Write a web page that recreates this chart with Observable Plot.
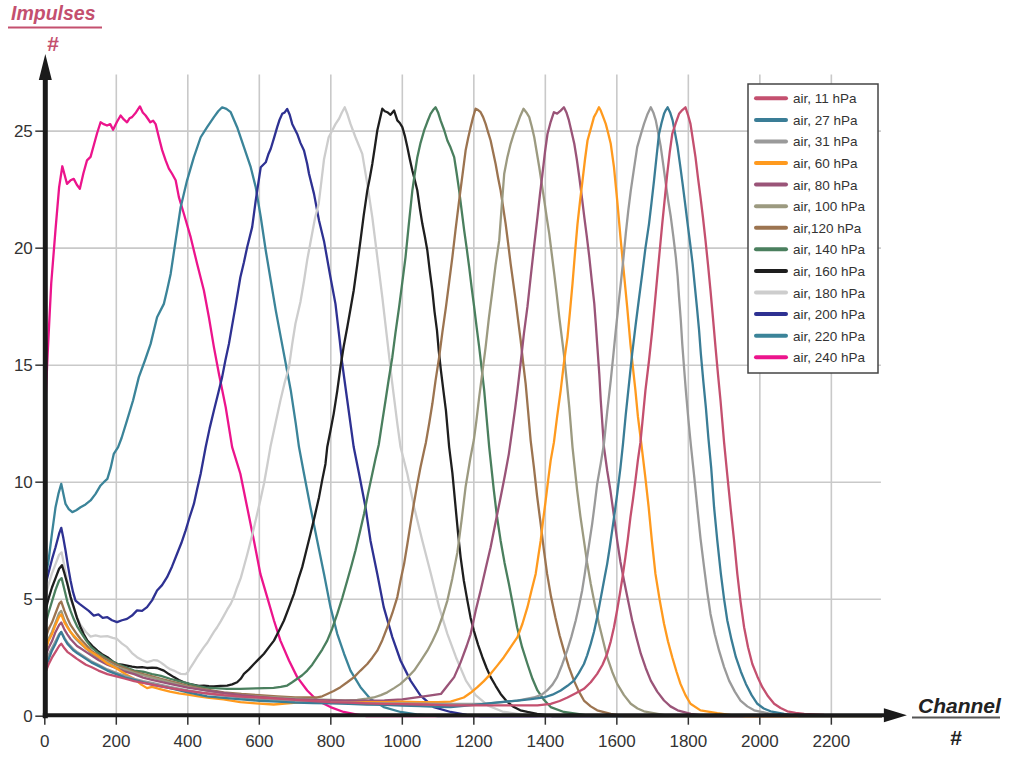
<!DOCTYPE html>
<html>
<head>
<meta charset="utf-8">
<script src="https://cdn.jsdelivr.net/npm/d3@7"></script>
<script src="https://cdn.jsdelivr.net/npm/@observablehq/plot@0.6"></script>
<style>
  html, body { margin: 0; padding: 0; background: #fff; }
  #chart { width: 1016px; height: 757px; }
</style>
</head>
<body>
<div id="chart"></div>
<script>
// ---------- axis ticks ----------
const xTicks = [0, 200, 400, 600, 800, 1000, 1200, 1400, 1600, 1800, 2000, 2200];
const yTicks = [0, 5, 10, 15, 20, 25];
const xDomain = [0, 2340];
const yDomain = [0, 27.4];

// ---------- series names & colours (legend order) ----------
const seriesNames = ["air, 11 hPa", "air, 27 hPa", "air, 31 hPa", "air, 60 hPa", "air, 80 hPa",
  "air, 100 hPa", "air,120 hPa", "air, 140 hPa", "air, 160 hPa", "air, 180 hPa",
  "air, 200 hPa", "air, 220 hPa", "air, 240 hPa"];
const seriesColors = ["#c4506f", "#3a7d96", "#9a9a9a", "#ff9a1e", "#9a5478",
  "#9c9a80", "#9c7450", "#4a7f5e", "#1e1e1e", "#cdcdcd",
  "#2e3192", "#3b8499", "#ec148c"];

// ---------- series values: [channel, impulses] ----------
const air11 = [[0,1.8],[10,2.2],[20,2.5],[30,2.75],[40,3.0],[46,3.1],[55,2.9],[63,2.75],[72,2.65],[81,2.55],[90,2.45],[100,2.35],[115,2.2],[130,2.1],[150,1.95],[175,1.8],[200,1.7],[225,1.6],[250,1.5],[275,1.42],[300,1.35],[350,1.2],[400,1.08],[450,0.98],[500,0.9],[550,0.84],[600,0.8],[650,0.75],[700,0.7],[750,0.65],[800,0.6],[850,0.58],[900,0.55],[950,0.53],[1000,0.52],[1050,0.5],[1100,0.48],[1135,0.46],[1228,0.46],[1322,0.46],[1378,0.46],[1415,0.53],[1440,0.65],[1462,0.8],[1485,0.98],[1508,1.17],[1527,1.45],[1545,1.81],[1560,2.2],[1573,2.67],[1583,3.2],[1592,3.8],[1601,4.55],[1610,5.37],[1617,6.05],[1624,6.8],[1631,7.6],[1638,8.5],[1645,9.25],[1652,10.07],[1659,10.95],[1666,11.7],[1673,12.8],[1680,13.92],[1690,15.2],[1699,16.48],[1706,17.6],[1713,18.76],[1720,19.9],[1727,21.04],[1734,22.1],[1741,23.18],[1748,24.1],[1755,24.88],[1765,25.35],[1774,25.74],[1783,25.9],[1792,26.02],[1799,25.7],[1806,25.31],[1813,24.6],[1820,23.89],[1827,23.0],[1834,22.18],[1841,21.3],[1848,20.33],[1855,19.3],[1862,18.19],[1869,17.0],[1876,15.77],[1883,14.6],[1890,13.49],[1895,12.6],[1900,11.7],[1909,10.3],[1918,8.93],[1928,7.5],[1937,6.08],[1946,4.9],[1956,3.8],[1967,2.95],[1979,2.23],[1993,1.7],[2007,1.24],[2023,0.85],[2040,0.53],[2058,0.35],[2077,0.21],[2100,0.14],[2124,0.1],[2180,0.06],[2250,0.05],[2340,0.05]];

const air27 = [[0,2.0],[10,2.4],[20,2.8],[30,3.1],[40,3.45],[46,3.6],[55,3.3],[63,3.1],[72,2.95],[81,2.8],[90,2.7],[100,2.6],[115,2.45],[130,2.3],[150,2.15],[175,1.95],[200,1.8],[225,1.65],[250,1.55],[275,1.45],[300,1.35],[350,1.2],[400,1.02],[454,0.85],[500,0.78],[550,0.72],[600,0.66],[650,0.62],[700,0.58],[750,0.56],[800,0.55],[850,0.53],[900,0.5],[950,0.48],[1000,0.45],[1050,0.43],[1100,0.4],[1135,0.39],[1180,0.45],[1228,0.53],[1275,0.6],[1322,0.67],[1360,0.73],[1396,0.8],[1420,0.92],[1443,1.1],[1462,1.3],[1480,1.52],[1494,1.85],[1508,2.23],[1517,2.6],[1527,3.09],[1536,3.6],[1545,4.23],[1552,4.8],[1559,5.37],[1566,5.95],[1573,6.51],[1580,7.2],[1587,7.94],[1594,8.7],[1601,9.5],[1610,10.6],[1617,11.6],[1625,12.9],[1634,14.2],[1643,15.5],[1653,16.77],[1662,17.85],[1671,18.9],[1680,20.0],[1690,21.04],[1697,21.95],[1704,22.89],[1711,23.9],[1718,24.88],[1725,25.35],[1732,25.74],[1737,25.9],[1742,26.02],[1749,25.8],[1756,25.46],[1763,24.9],[1770,24.32],[1777,23.55],[1784,22.75],[1791,21.9],[1798,21.04],[1805,20.2],[1812,19.33],[1818,18.4],[1824,17.48],[1830,16.5],[1835,15.48],[1842,14.3],[1849,13.2],[1856,11.9],[1864,10.6],[1872,8.93],[1881,7.5],[1891,6.08],[1900,5.0],[1909,4.09],[1921,3.25],[1933,2.52],[1947,1.9],[1961,1.38],[1977,0.9],[1993,0.53],[2011,0.33],[2030,0.21],[2068,0.1],[2110,0],[2340,0]];

const air31 = [[0,2.2],[10,2.6],[20,2.9],[30,3.2],[40,3.5],[46,3.6],[55,3.35],[63,3.15],[72,3.0],[81,2.85],[90,2.75],[100,2.65],[115,2.5],[130,2.35],[150,2.2],[175,2.0],[200,1.85],[225,1.72],[250,1.6],[275,1.5],[300,1.42],[350,1.25],[400,1.1],[450,0.98],[500,0.88],[550,0.8],[600,0.74],[650,0.7],[700,0.65],[750,0.62],[800,0.6],[850,0.58],[900,0.56],[950,0.55],[1000,0.55],[1050,0.54],[1100,0.53],[1135,0.53],[1228,0.53],[1280,0.6],[1322,0.67],[1368,0.8],[1390,0.92],[1405,1.1],[1420,1.35],[1433,1.67],[1447,2.2],[1461,2.8],[1473,3.4],[1485,4.09],[1494,4.7],[1503,5.37],[1510,6.05],[1517,6.8],[1524,7.5],[1531,8.22],[1538,9.05],[1545,9.93],[1555,10.8],[1564,11.65],[1573,13.0],[1583,14.35],[1590,15.4],[1597,16.48],[1604,17.5],[1611,18.48],[1618,19.5],[1625,20.62],[1632,21.6],[1639,22.46],[1648,23.4],[1657,24.32],[1667,24.85],[1676,25.31],[1685,25.7],[1695,26.02],[1702,25.8],[1709,25.46],[1716,24.9],[1723,24.32],[1730,23.55],[1737,22.75],[1744,22.0],[1751,21.33],[1758,20.5],[1765,19.62],[1770,18.8],[1774,17.91],[1779,16.9],[1783,15.91],[1788,14.9],[1793,13.92],[1800,12.7],[1807,11.6],[1816,10.3],[1825,8.93],[1834,7.6],[1844,6.37],[1853,5.3],[1862,4.37],[1874,3.5],[1886,2.8],[1900,2.1],[1914,1.52],[1930,1.05],[1946,0.67],[1965,0.42],[1984,0.25],[2030,0.1],[2080,0],[2340,0]];

const air60 = [[0,2.7],[10,3.2],[20,3.5],[30,3.9],[40,4.25],[46,4.35],[55,4.0],[63,3.8],[72,3.6],[81,3.45],[90,3.3],[100,3.15],[115,2.9],[130,2.75],[150,2.55],[175,2.25],[200,2.05],[225,1.8],[250,1.6],[270,1.35],[286,1.2],[300,1.25],[325,1.15],[350,1.05],[375,0.98],[400,0.92],[430,0.85],[460,0.78],[500,0.72],[547,0.6],[590,0.55],[640,0.5],[680,0.55],[720,0.6],[760,0.62],[800,0.6],[850,0.58],[900,0.6],[950,0.6],[1000,0.62],[1050,0.6],[1100,0.6],[1135,0.62],[1172,0.8],[1191,1.0],[1210,1.24],[1228,1.5],[1247,1.81],[1265,2.15],[1284,2.52],[1303,2.95],[1322,3.38],[1336,3.95],[1350,4.66],[1361,5.35],[1373,6.08],[1380,6.8],[1387,7.5],[1394,8.4],[1401,9.22],[1408,10.1],[1415,10.93],[1424,11.7],[1433,12.8],[1443,13.92],[1452,15.1],[1462,16.2],[1469,17.3],[1476,18.48],[1483,19.8],[1490,21.04],[1497,22.0],[1504,22.89],[1511,23.8],[1518,24.6],[1527,25.1],[1536,25.6],[1543,25.8],[1550,26.02],[1555,25.88],[1562,25.6],[1569,25.31],[1576,24.9],[1583,24.46],[1592,23.46],[1601,22.04],[1611,20.33],[1620,18.9],[1629,17.48],[1638,15.91],[1645,14.9],[1652,13.92],[1659,12.8],[1668,11.7],[1679,10.3],[1689,8.93],[1698,7.5],[1708,6.08],[1720,4.95],[1732,3.95],[1743,3.2],[1755,2.52],[1767,1.9],[1778,1.38],[1792,0.9],[1806,0.53],[1834,0.25],[1881,0.13],[1920,0.05],[1960,0],[2340,0]];

const air80 = [[0,2.5],[10,2.9],[20,3.2],[30,3.6],[40,3.9],[46,4.0],[55,3.7],[63,3.5],[72,3.3],[81,3.15],[90,3.0],[100,2.9],[115,2.75],[130,2.6],[150,2.4],[175,2.2],[200,2.05],[225,1.9],[250,1.8],[275,1.65],[300,1.55],[350,1.38],[400,1.22],[450,1.1],[500,1.0],[550,0.9],[600,0.82],[650,0.76],[700,0.72],[750,0.7],[800,0.68],[850,0.66],[900,0.66],[950,0.68],[1000,0.72],[1040,0.8],[1075,0.88],[1108,0.95],[1126,1.3],[1145,1.67],[1163,2.3],[1180,3.0],[1191,3.5],[1205,4.5],[1219,5.37],[1233,6.3],[1247,7.22],[1261,8.3],[1275,9.36],[1287,10.3],[1298,11.21],[1308,12.3],[1316,13.2],[1322,13.92],[1331,15.1],[1340,16.34],[1350,17.5],[1359,18.76],[1368,20.0],[1378,21.33],[1385,22.3],[1392,23.18],[1399,24.1],[1406,24.88],[1415,25.4],[1424,25.81],[1433,25.75],[1443,25.88],[1452,26.02],[1459,25.8],[1466,25.46],[1473,25.0],[1481,24.46],[1488,23.8],[1495,23.03],[1502,22.2],[1509,21.33],[1516,20.5],[1523,19.62],[1530,18.6],[1537,17.62],[1541,16.8],[1545,15.91],[1551,14.6],[1555,13.5],[1564,11.5],[1573,10.5],[1582,9.65],[1592,8.55],[1601,7.5],[1610,6.6],[1620,5.8],[1632,4.9],[1643,4.09],[1655,3.35],[1667,2.67],[1681,2.05],[1695,1.52],[1713,1.05],[1732,0.67],[1750,0.42],[1770,0.25],[1807,0.1],[1850,0],[2340,0]];

const air100 = [[0,2.9],[10,3.3],[20,3.6],[30,4.0],[40,4.4],[46,4.5],[55,4.1],[63,3.85],[72,3.6],[81,3.4],[90,3.25],[100,3.1],[115,2.9],[130,2.7],[150,2.5],[175,2.3],[200,2.1],[225,1.98],[250,1.85],[275,1.75],[300,1.65],[325,1.55],[350,1.45],[375,1.35],[400,1.25],[450,1.1],[500,0.98],[550,0.9],[600,0.85],[650,0.8],[700,0.76],[750,0.72],[800,0.7],[840,0.68],[874,0.7],[900,0.75],[920,0.8],[940,0.9],[958,1.02],[977,1.2],[995,1.38],[1014,1.65],[1033,1.95],[1051,2.35],[1070,2.8],[1084,3.2],[1098,3.66],[1112,4.25],[1126,4.94],[1140,5.9],[1154,7.0],[1166,8.4],[1177,9.8],[1190,11.0],[1200,11.8],[1207,12.6],[1215,13.63],[1224,14.7],[1233,15.77],[1242,17.0],[1252,18.19],[1261,19.3],[1271,20.33],[1278,21.8],[1285,23.18],[1294,23.9],[1303,24.46],[1312,24.9],[1322,25.31],[1330,25.65],[1339,25.96],[1347,25.8],[1355,25.6],[1362,25.2],[1369,24.74],[1376,24.1],[1383,23.46],[1390,22.75],[1397,22.04],[1404,21.3],[1411,20.61],[1418,19.75],[1425,18.9],[1432,18.0],[1439,17.05],[1446,16.2],[1453,15.34],[1460,14.3],[1467,13.2],[1476,11.5],[1489,9.65],[1498,8.55],[1508,7.5],[1517,6.55],[1527,5.66],[1538,4.8],[1550,3.95],[1562,3.2],[1573,2.52],[1587,1.9],[1601,1.38],[1620,0.9],[1639,0.53],[1658,0.33],[1676,0.21],[1714,0.1],[1750,0],[2340,0]];

const air120 = [[0,3.2],[10,3.7],[20,4.0],[30,4.4],[40,4.8],[46,4.9],[55,4.5],[63,4.2],[72,3.9],[81,3.7],[90,3.5],[100,3.3],[115,3.05],[130,2.8],[150,2.6],[175,2.4],[200,2.2],[225,2.05],[250,1.9],[275,1.8],[300,1.7],[325,1.6],[350,1.5],[375,1.4],[400,1.3],[425,1.22],[450,1.15],[475,1.08],[500,1.02],[550,0.95],[600,0.9],[650,0.85],[700,0.8],[735,0.8],[762,0.8],[776,0.85],[790,0.95],[808,1.08],[827,1.24],[846,1.45],[865,1.67],[883,1.95],[902,2.23],[916,2.5],[930,2.8],[944,3.25],[958,3.8],[972,4.4],[986,5.09],[995,5.8],[1005,6.51],[1014,7.35],[1023,8.22],[1032,9.05],[1042,9.93],[1051,10.65],[1061,11.35],[1066,11.7],[1075,12.5],[1084,13.35],[1093,14.35],[1103,15.34],[1112,16.4],[1122,17.48],[1131,18.55],[1140,19.62],[1149,20.8],[1159,22.04],[1168,23.1],[1177,24.17],[1184,24.7],[1191,25.17],[1198,25.6],[1205,25.96],[1212,25.9],[1219,25.81],[1226,25.6],[1233,25.31],[1240,24.95],[1247,24.6],[1254,24.1],[1261,23.6],[1268,23.0],[1275,22.46],[1282,21.75],[1289,21.04],[1296,20.2],[1303,19.33],[1310,18.55],[1317,17.76],[1324,16.9],[1331,16.06],[1338,15.1],[1345,14.2],[1352,13.0],[1359,11.78],[1368,10.64],[1377,9.4],[1387,8.22],[1396,7.1],[1405,6.08],[1416,5.1],[1428,4.23],[1440,3.45],[1452,2.8],[1466,2.1],[1480,1.52],[1494,1.05],[1508,0.67],[1527,0.42],[1545,0.25],[1583,0.1],[1620,0],[2340,0]];

const air140 = [[0,3.8],[10,4.4],[20,4.9],[30,5.4],[40,5.8],[47,5.9],[55,5.4],[63,4.9],[72,4.5],[81,4.15],[90,3.85],[100,3.6],[115,3.25],[130,2.95],[150,2.7],[175,2.45],[200,2.25],[225,2.1],[250,1.95],[275,1.9],[300,1.8],[325,1.72],[350,1.6],[375,1.5],[400,1.4],[425,1.3],[450,1.22],[475,1.2],[510,1.17],[547,1.17],[590,1.19],[640,1.21],[660,1.25],[678,1.31],[692,1.45],[706,1.6],[720,1.75],[734,1.95],[748,2.2],[762,2.52],[776,2.85],[790,3.23],[804,3.75],[818,4.37],[832,5.05],[846,5.8],[858,6.45],[869,7.08],[881,7.85],[893,8.65],[904,9.5],[916,10.36],[925,11.0],[934,11.6],[943,12.5],[953,13.49],[962,14.4],[972,15.34],[981,16.4],[991,17.48],[1000,18.55],[1009,19.62],[1018,21.0],[1028,22.46],[1035,23.2],[1042,23.89],[1051,24.5],[1061,25.03],[1070,25.4],[1079,25.74],[1086,25.9],[1093,26.02],[1100,25.8],[1107,25.46],[1117,25.05],[1126,24.6],[1135,24.3],[1145,23.89],[1152,23.2],[1159,22.46],[1166,21.6],[1173,20.76],[1180,20.0],[1187,19.19],[1194,18.3],[1201,17.48],[1208,16.6],[1215,15.77],[1222,14.85],[1229,13.92],[1236,12.7],[1243,11.5],[1256,9.65],[1265,8.5],[1275,7.5],[1286,6.55],[1298,5.66],[1310,4.7],[1321,3.8],[1335,2.95],[1350,2.23],[1364,1.6],[1378,1.1],[1396,0.7],[1415,0.39],[1452,0.18],[1490,0.1],[1530,0],[2340,0]];

const air160 = [[0,4.4],[10,5.0],[20,5.5],[30,5.9],[40,6.3],[48,6.45],[55,6.1],[63,5.66],[72,5.1],[81,4.66],[90,4.2],[100,3.8],[109,3.5],[119,3.23],[133,3.0],[147,2.8],[160,2.65],[175,2.52],[189,2.35],[203,2.23],[216,2.2],[230,2.16],[244,2.12],[258,2.09],[272,2.1],[286,2.06],[300,2.08],[314,2.06],[324,2.0],[333,1.95],[347,1.8],[361,1.67],[375,1.55],[389,1.45],[403,1.38],[417,1.34],[431,1.3],[445,1.31],[459,1.28],[473,1.27],[491,1.3],[510,1.31],[524,1.36],[538,1.45],[548,1.6],[557,1.81],[571,2.0],[585,2.23],[599,2.45],[613,2.67],[627,2.95],[641,3.23],[655,3.65],[669,4.09],[683,4.65],[697,5.23],[708,5.8],[720,6.37],[731,7.05],[743,7.79],[755,8.55],[767,9.36],[776,10.1],[785,10.78],[790,11.5],[799,12.2],[808,12.92],[818,13.9],[827,14.92],[836,15.8],[846,16.62],[855,17.4],[864,18.19],[874,19.3],[883,20.33],[892,21.4],[902,22.46],[909,23.0],[916,23.6],[923,24.3],[930,25.03],[937,25.5],[944,25.96],[951,25.85],[958,25.81],[967,25.7],[977,25.88],[986,25.46],[993,25.35],[1000,25.17],[1007,24.8],[1014,24.32],[1021,23.8],[1028,23.32],[1035,22.9],[1042,22.46],[1049,21.7],[1056,21.04],[1063,20.5],[1070,19.9],[1077,19.0],[1084,18.19],[1090,17.3],[1097,16.48],[1102,15.6],[1108,14.77],[1115,13.9],[1122,13.06],[1131,11.5],[1140,10.4],[1149,8.93],[1156,7.8],[1163,6.8],[1172,5.8],[1182,4.94],[1191,4.2],[1200,3.66],[1212,3.05],[1224,2.52],[1236,2.05],[1247,1.67],[1261,1.3],[1275,0.95],[1293,0.62],[1312,0.39],[1330,0.25],[1350,0.18],[1377,0.1],[1420,0],[2340,0]];

const air180 = [[0,5.0],[10,5.6],[20,6.1],[30,6.5],[40,6.9],[47,7.0],[55,6.4],[65,5.6],[75,4.9],[88,4.3],[100,3.9],[115,3.6],[128,3.4],[142,3.45],[156,3.4],[175,3.42],[190,3.35],[202,3.3],[216,3.1],[230,2.95],[244,2.7],[258,2.52],[272,2.4],[286,2.31],[296,2.35],[305,2.4],[315,2.38],[324,2.3],[333,2.2],[342,2.09],[352,2.0],[361,1.95],[370,1.88],[380,1.81],[394,1.8],[401,1.9],[408,2.09],[417,2.3],[426,2.52],[436,2.75],[445,2.95],[455,3.15],[464,3.38],[473,3.6],[482,3.8],[492,4.05],[501,4.3],[510,4.55],[520,4.8],[529,5.1],[538,5.5],[548,5.9],[557,6.4],[566,6.9],[576,7.5],[585,8.05],[594,8.65],[604,9.3],[613,9.93],[622,10.7],[631,11.5],[645,12.5],[659,13.49],[670,14.2],[683,14.92],[692,15.9],[701,16.77],[715,17.7],[725,18.6],[734,19.5],[745,20.4],[756,21.3],[766,21.89],[774,22.9],[781,23.8],[794,24.74],[804,25.03],[813,25.3],[823,25.53],[831,25.8],[839,26.02],[847,25.7],[855,25.31],[869,24.74],[888,24.03],[902,22.75],[916,21.33],[930,19.62],[944,17.91],[958,16.06],[972,14.2],[986,12.5],[995,11.5],[1014,10.36],[1033,8.93],[1056,7.5],[1080,6.08],[1103,4.66],[1126,3.52],[1150,2.52],[1178,1.52],[1205,0.9],[1240,0.45],[1280,0.2],[1330,0.08],[1380,0],[2340,0]];

const air200 = [[0,5.5],[10,6.1],[20,6.7],[30,7.22],[40,7.8],[46,8.05],[52,7.6],[58,7.08],[65,6.4],[72,5.8],[79,5.3],[86,4.94],[97,4.8],[109,4.66],[123,4.5],[137,4.3],[150,4.35],[162,4.2],[175,4.23],[188,4.1],[202,4.02],[216,4.1],[230,4.16],[244,4.3],[258,4.52],[272,4.5],[286,4.66],[300,4.95],[314,5.37],[328,5.6],[342,5.94],[356,6.4],[370,6.94],[382,7.4],[394,7.94],[405,8.5],[417,9.07],[426,9.7],[436,10.36],[450,11.5],[461,12.3],[473,13.06],[485,13.8],[496,14.49],[505,15.2],[515,15.91],[524,16.7],[533,17.48],[547,18.76],[557,19.4],[566,20.04],[580,20.9],[590,22.04],[604,23.46],[618,23.67],[625,24.0],[632,24.25],[641,24.7],[650,25.17],[657,25.5],[664,25.74],[671,25.8],[678,25.95],[685,25.7],[692,25.31],[706,24.88],[715,24.5],[725,24.17],[734,23.6],[739,23.18],[753,22.32],[767,21.18],[781,20.3],[799,18.76],[813,17.62],[825,16.05],[832,15.06],[846,13.5],[864,11.5],[879,10.36],[897,8.93],[911,7.5],[930,6.08],[948,4.66],[972,3.38],[995,2.38],[1023,1.52],[1051,0.88],[1088,0.39],[1135,0.18],[1180,0.06],[1220,0],[2340,0]];

const air220 = [[0,5.8],[10,6.6],[20,7.8],[30,8.93],[38,9.5],[46,9.93],[52,9.5],[58,9.07],[67,8.85],[77,8.72],[88,8.8],[100,8.93],[114,9.05],[128,9.22],[142,9.5],[156,9.86],[165,10.0],[175,10.14],[184,10.6],[193,11.21],[205,11.5],[215,11.9],[230,12.64],[247,13.5],[263,14.49],[280,15.2],[296,15.91],[314,17.05],[333,17.62],[342,18.2],[352,18.9],[366,20.33],[380,21.75],[398,22.9],[417,23.89],[436,24.74],[454,25.17],[473,25.6],[485,25.85],[496,26.02],[508,25.95],[520,25.81],[538,25.17],[557,24.32],[576,23.46],[590,22.6],[604,21.33],[618,19.9],[632,18.62],[646,17.34],[660,16.2],[674,15.06],[688,13.92],[702,12.5],[711,11.5],[725,10.36],[743,8.93],[762,7.5],[781,6.08],[799,4.66],[818,3.52],[837,2.67],[855,1.95],[883,1.24],[911,0.74],[948,0.39],[995,0.18],[1040,0.08],[1100,0],[2340,0]];

const air240 = [[0,12.7],[8,15.5],[18,18.5],[30,20.8],[40,22.6],[49,23.5],[62,22.75],[72,22.9],[81,22.96],[90,22.7],[98,22.54],[108,23.2],[118,23.75],[128,23.9],[137,24.4],[146,24.9],[156,25.38],[165,25.3],[174,25.24],[183,25.3],[191,25.06],[202,25.4],[212,25.67],[221,25.5],[230,25.38],[237,25.55],[244,25.6],[255,25.8],[266,26.06],[274,25.8],[282,25.67],[295,25.38],[303,25.45],[310,25.3],[319,24.74],[328,24.2],[338,23.75],[347,23.4],[356,23.18],[366,22.9],[375,22.18],[389,21.47],[408,20.47],[426,19.33],[445,18.19],[459,17.05],[473,15.77],[487,14.63],[506,13.2],[524,11.5],[547,10.36],[566,8.93],[585,7.5],[603,6.08],[622,5.09],[641,4.09],[659,3.23],[683,2.38],[706,1.67],[734,1.1],[762,0.67],[799,0.39],[836,0.18],[874,0.07],[900,0],[2340,0]];

const seriesData = [air11, air27, air31, air60, air80, air100, air120, air140, air160, air180, air200, air220, air240];

// ---------- build ----------
const FONT = "'Liberation Sans', Arial, Helvetica, sans-serif";
const lineMarks = seriesData.map((d, i) =>
  Plot.line(d, {x: p => p[0], y: p => p[1], stroke: seriesColors[i], strokeWidth: 2.3, strokeLinejoin: "round"})
).reverse();

const plot = Plot.plot({
  width: 1016,
  height: 757,
  marginLeft: 44.3,
  marginRight: 135.1,
  marginTop: 74.5,
  marginBottom: 41.3,
  x: {domain: xDomain},
  y: {domain: yDomain},
  style: {fontFamily: FONT, fontSize: "17px", color: "#333", background: "#fff", overflow: "visible"},
  marks: [
    Plot.gridX(xTicks.slice(1), {stroke: "#c9c9c9", strokeOpacity: 1, strokeWidth: 1.6}),
    Plot.gridY(yTicks.slice(1), {stroke: "#c9c9c9", strokeOpacity: 1, strokeWidth: 1.6}),
    ...lineMarks,
    Plot.axisX(xTicks, {tickSize: 9, tickPadding: 10, fontSize: 17, label: null, tickFormat: d => String(d), stroke: "#333", strokeWidth: 1.5, fill: "#333"}),
    Plot.axisY(yTicks, {tickSize: 9, tickPadding: 3, fontSize: 17, label: null, tickFormat: d => String(d), stroke: "#333", strokeWidth: 1.5, fill: "#333"})
  ]
});
document.getElementById("chart").appendChild(plot);

// ---------- decorations: axis bars with arrows, axis titles, legend ----------
const sx = plot.scale("x"), sy = plot.scale("y");
const X0 = sx.apply(0), Y0 = sy.apply(0), XEND = sx.apply(xDomain[1]);
const svg = d3.select(plot);
const deco = svg.append("g").attr("text-anchor", "start");

// y axis bar + arrow
deco.append("line").attr("x1", X0 + 1).attr("x2", X0 + 1).attr("y1", Y0 + 2.5).attr("y2", 78)
  .attr("stroke", "#1a1a1a").attr("stroke-width", 5);
deco.append("path").attr("d", `M${X0 + 1 - 6.5},80 L${X0 + 1},54 L${X0 + 1 + 6.5},80 Z`).attr("fill", "#1a1a1a");
// x axis bar + arrow
deco.append("line").attr("x1", X0 - 1.5).attr("x2", XEND + 5).attr("y1", Y0 - 0.5).attr("y2", Y0 - 0.5)
  .attr("stroke", "#1a1a1a").attr("stroke-width", 4);
deco.append("path").attr("d", `M${XEND + 3},${Y0 - 7.5} L${XEND + 26},${Y0 - 0.5} L${XEND + 3},${Y0 + 6.5} Z`).attr("fill", "#1a1a1a");

// y title
deco.append("text").attr("x", 11).attr("y", 20).attr("text-anchor", "start").text("Impulses")
  .attr("font-family", FONT).attr("font-size", 19.5).attr("font-weight", "bold").attr("font-style", "italic").attr("fill", "#c4506f");
deco.append("line").attr("x1", 8).attr("x2", 102).attr("y1", 27.5).attr("y2", 27.5).attr("stroke", "#c4506f").attr("stroke-width", 2);
deco.append("text").attr("x", 53).attr("y", 51).attr("text-anchor", "middle").text("#")
  .attr("font-family", FONT).attr("font-size", 21).attr("font-weight", "bold").attr("fill", "#c4506f");

// x title
deco.append("text").attr("x", 918).attr("y", 713).attr("text-anchor", "start").text("Channel")
  .attr("font-family", FONT).attr("font-size", 21).attr("font-weight", "bold").attr("font-style", "italic").attr("fill", "#222");
deco.append("line").attr("x1", 912).attr("x2", 1000).attr("y1", 717.5).attr("y2", 717.5).attr("stroke", "#555").attr("stroke-width", 2);
deco.append("text").attr("x", 956).attr("y", 745).attr("text-anchor", "middle").text("#")
  .attr("font-family", FONT).attr("font-size", 21).attr("font-weight", "bold").attr("fill", "#222");

// legend
const leg = deco.append("g").attr("transform", "translate(748,84)");
leg.append("rect").attr("x", 0).attr("y", 0).attr("width", 130).attr("height", 289)
  .attr("fill", "#fff").attr("stroke", "#444").attr("stroke-width", 1.5);
seriesNames.forEach((name, i) => {
  const cy = 14.3 + i * 21.58;
  leg.append("line").attr("x1", 8).attr("x2", 38).attr("y1", cy).attr("y2", cy)
    .attr("stroke", seriesColors[i]).attr("stroke-width", 4).attr("stroke-linecap", "round");
  leg.append("text").attr("x", 45).attr("y", cy + 5).attr("text-anchor", "start").text(name)
    .attr("font-family", FONT).attr("font-size", 13.5).attr("fill", "#333");
});
</script>
</body>
</html>
